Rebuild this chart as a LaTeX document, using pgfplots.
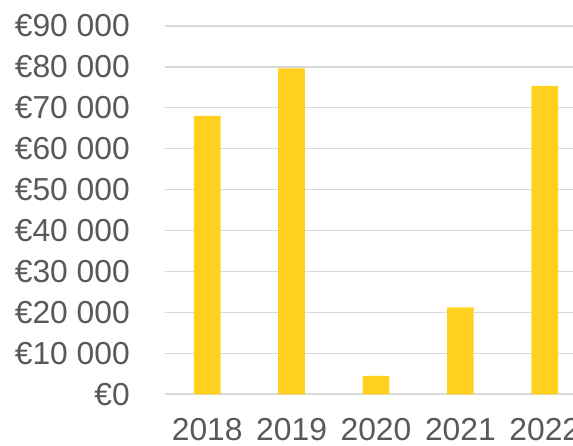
\documentclass[border=0pt]{standalone}
\usepackage{pgfplots}
\pgfplotsset{compat=1.18}
\usepackage{fontspec}
\setmainfont{Liberation Sans}
\definecolor{barY}{HTML}{FFD11E}
\definecolor{gridG}{HTML}{D9D9D9}
\definecolor{txtG}{HTML}{595959}
\begin{document}
\begin{tikzpicture}
\begin{axis}[
  at={(0pt,0pt)}, anchor=south west,
  scale only axis,
  width=422pt, height=368.5pt,
  xmin=-0.5, xmax=4.5,
  ymin=0, ymax=90000,
  axis line style={draw=none},
  major tick length=0pt,
  xtick={0,1,2,3,4},
  xticklabels={2018,2019,2020,2021,2022},
  ytick={0,10000,20000,30000,40000,50000,60000,70000,80000,90000},
  yticklabels={€0,€10 000,€20 000,€30 000,€40 000,€50 000,€60 000,€70 000,€80 000,€90 000},
  scaled y ticks=false,
  ymajorgrids,
  grid style={gridG, line width=1.6pt},
  tick label style={font=\fontsize{31.8}{36}\selectfont, text=txtG, inner sep=0pt},
  yticklabel style={anchor=east, xshift=-35pt},
  xticklabel style={anchor=north, yshift=-24pt},
  axis on top=false,
]
\addplot[ybar, bar width=26.7pt, fill=barY, draw=none] coordinates {
  (0,68000) (1,79600) (2,4500) (3,21200) (4,75300)
};
\end{axis}
\pgfresetboundingbox
\path (-165pt,-51.7pt) rectangle (408pt,394.3pt);
\end{tikzpicture}
\end{document}
